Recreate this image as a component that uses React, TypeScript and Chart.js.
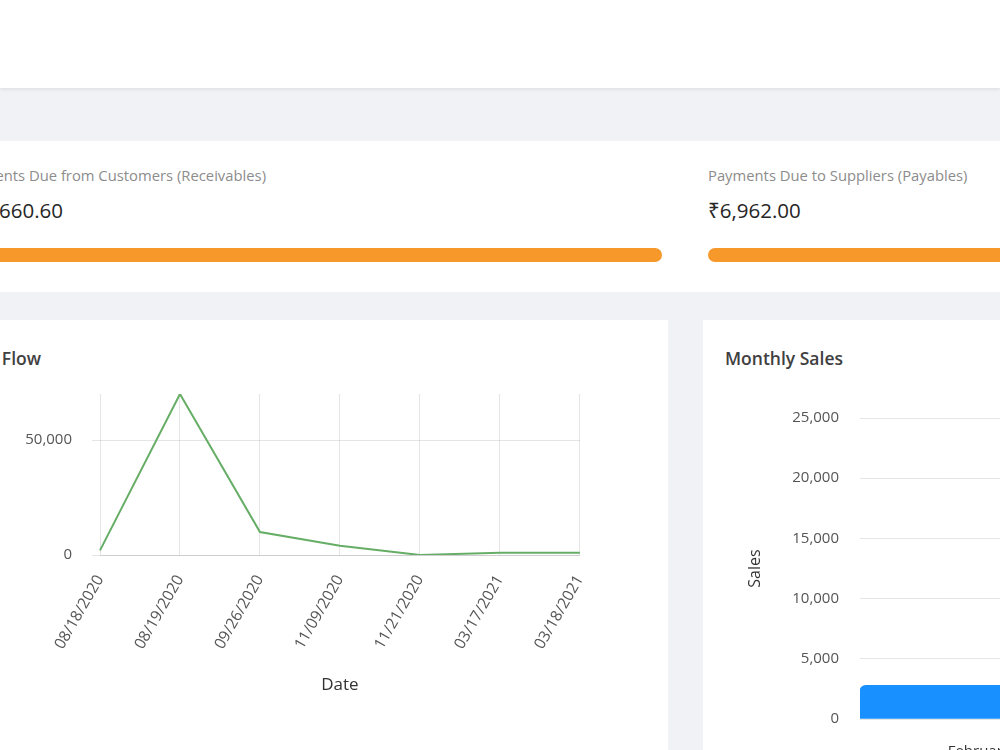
import React, { useEffect, useRef } from "react";
import { Chart, registerables } from "chart.js";

Chart.register(...registerables);
Chart.defaults.font.family = '"Open Sans", "Noto Sans", sans-serif';

const flowDates = ["08/18/2020", "08/19/2020", "09/26/2020", "11/09/2020", "11/21/2020", "03/17/2021", "03/18/2021"];
const flowValues = [2000, 70000, 10000, 4000, 0, 1000, 1000];
const flowTicks = [0, 50000];

const salesMonths = ["February"];
const salesValues = [2800];

const receivablesLabel = "Payments Due from Customers (Receivables)";
const receivablesValue = "₹15,660.60";
const payablesLabel = "Payments Due to Suppliers (Payables)";
const payablesValue = "₹6,962.00";

const ORANGE = "#f7982a";
const GRID = "rgba(0,0,0,0.1)";
const TICK = "#555";

function FlowChart() {
  const ref = useRef<HTMLCanvasElement>(null);
  useEffect(() => {
    const chart = new Chart(ref.current!, {
      type: "line",
      data: {
        labels: flowDates,
        datasets: [
          {
            data: flowValues,
            borderColor: "#66ad66",
            borderWidth: 2,
            pointRadius: 0,
            tension: 0,
            fill: false,
          },
        ],
      },
      options: {
        animation: false,
        responsive: false,
        layout: { padding: 0 },
        plugins: { legend: { display: false }, tooltip: { enabled: false } },
        scales: {
          x: {
            grid: { color: GRID, drawTicks: false },
            border: { color: GRID },
            ticks: { color: TICK, font: { size: 15.5 }, minRotation: 60, maxRotation: 60, padding: 17 },
            title: { display: true, text: "Date", color: "#333", font: { size: 17 } },
            afterFit: (s: any) => { s.height = 144; },
          },
          y: {
            min: 0,
            max: 70000,
            grid: { color: GRID, tickLength: 8 },
            border: { display: false },
            ticks: { color: TICK, font: { size: 15 }, padding: 20 },
            afterBuildTicks: (s: any) => { s.ticks = flowTicks.map((v) => ({ value: v })); },
            afterFit: (s: any) => { s.width = 100; },
          },
        },
      },
    });
    return () => chart.destroy();
  }, []);
  return <canvas ref={ref} width={613} height={334} style={{ position: "absolute", left: 0, top: 365, width: 613, height: 334 }} />;
}

function SalesChart() {
  const ref = useRef<HTMLCanvasElement>(null);
  useEffect(() => {
    const chart = new Chart(ref.current!, {
      type: "bar",
      data: {
        labels: salesMonths,
        datasets: [
          {
            data: salesValues,
            backgroundColor: "#1890ff",
            borderRadius: { topLeft: 6, topRight: 6, bottomLeft: 0, bottomRight: 0 },
            borderSkipped: false,
            barPercentage: 1,
            categoryPercentage: 1,
          },
        ],
      },
      options: {
        animation: false,
        responsive: false,
        layout: { padding: 0 },
        plugins: { legend: { display: false }, tooltip: { enabled: false } },
        scales: {
          x: {
            grid: { display: false },
            border: { display: false },
            ticks: { color: "#333", font: { size: 15 }, padding: 16 },
            afterFit: (s: any) => { s.height = 60; },
          },
          y: {
            min: 0,
            max: 25000,
            grid: { color: GRID, drawTicks: false },
            border: { display: false },
            ticks: { color: TICK, font: { size: 15 }, padding: 21, stepSize: 5000 },
            title: { display: true, text: "Sales", color: "#333", font: { size: 16 } },
            afterFit: (s: any) => { s.width = 118; },
          },
        },
      },
    });
    return () => chart.destroy();
  }, []);
  return <canvas ref={ref} width={356} height={391} style={{ position: "absolute", left: 742, top: 388, width: 356, height: 391 }} />;
}

const abs = (o: React.CSSProperties): React.CSSProperties => ({ position: "absolute", whiteSpace: "nowrap", ...o });

export default function App() {
  return (
    <div
      style={{
        position: "fixed",
        left: 0,
        top: 0,
        width: 1000,
        height: 750,
        overflow: "hidden",
        background: "#f0f2f5",
        fontFamily: '"Open Sans", "Noto Sans", sans-serif',
      }}
    >
      <div style={abs({ left: 0, top: 0, width: 1000, height: 88, background: "#fff", boxShadow: "0 1px 4px rgba(0,21,41,0.10)" })} />
      <div style={abs({ left: -100, top: 141, width: 1200, height: 151, background: "#fff" })} />
      <div style={abs({ right: 734, top: 165, fontSize: 14.8, lineHeight: "20px", color: "#8c8c8c" })}>{receivablesLabel}</div>
      <div style={abs({ right: 937, top: 197, fontSize: 20.5, lineHeight: "26px", color: "#262626" })}>{receivablesValue}</div>
      <div style={abs({ left: -200, width: 862, top: 248, height: 14, borderRadius: 7, background: ORANGE })} />
      <div style={abs({ left: 708, top: 165, fontSize: 14.8, lineHeight: "20px", color: "#8c8c8c" })}>{payablesLabel}</div>
      <div style={abs({ left: 708, top: 197, fontSize: 20.5, lineHeight: "26px", color: "#262626" })}>{payablesValue}</div>
      <div style={abs({ left: 708, width: 500, top: 248, height: 14, borderRadius: 7, background: ORANGE })} />

      <div style={abs({ left: -100, top: 320, width: 768, height: 500, background: "#fff" })} />
      <div style={abs({ left: 703, top: 320, width: 500, height: 500, background: "#fff" })} />
      <div style={abs({ right: 959, top: 347, fontSize: 17.5, fontWeight: 600, lineHeight: "22px", color: "#404040" })}>Cash Flow</div>
      <div style={abs({ left: 725, top: 347, fontSize: 17.5, fontWeight: 600, lineHeight: "22px", color: "#404040" })}>Monthly Sales</div>
      <FlowChart />
      <SalesChart />
    </div>
  );
}
